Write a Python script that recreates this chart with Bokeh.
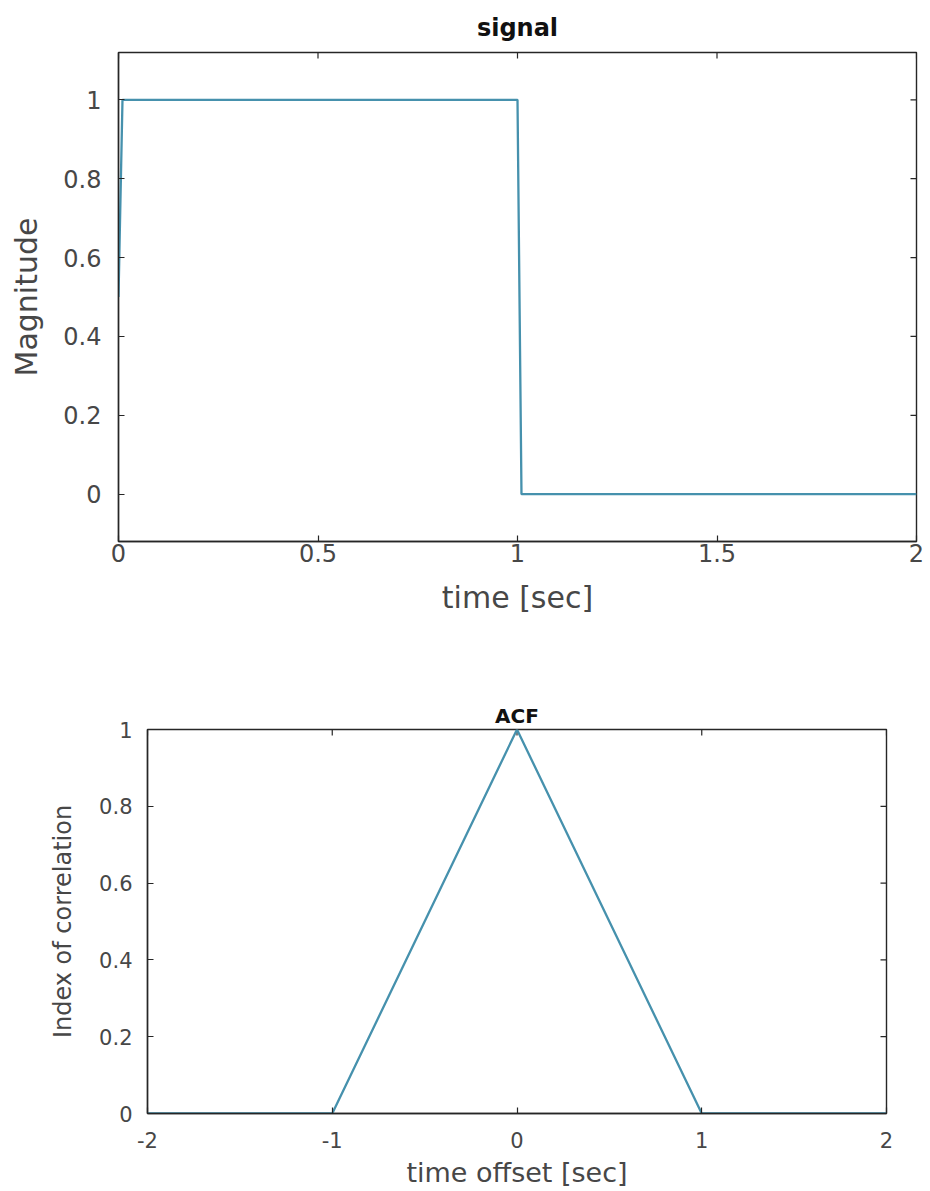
from bokeh.plotting import figure
from bokeh.models import FixedTicker, Range1d
from bokeh.embed import file_html
from bokeh.resources import INLINE

# ---- data ----
signal_t = [0.0, 0.01, 1.0, 1.01, 2.0]
signal_y = [0.5, 1.0, 1.0, 0.0, 0.0]

acf_lag = [-2.0, -1.0, 0.0, 1.0, 2.0]
acf_val = [0.0, 0.0, 1.0, 0.0, 0.0]

sig_xticks = [0, 0.5, 1, 1.5, 2]
sig_xlabels = ["0", "0.5", "1", "1.5", "2"]
sig_yticks = [0, 0.2, 0.4, 0.6, 0.8, 1]
sig_ylabels = ["0", "0.2", "0.4", "0.6", "0.8", "1"]

acf_xticks = [-2, -1, 0, 1, 2]
acf_xlabels = ["-2", "-1", "0", "1", "2"]
acf_yticks = [0, 0.2, 0.4, 0.6, 0.8, 1]
acf_ylabels = ["0", "0.2", "0.4", "0.6", "0.8", "1"]

FONT = "DejaVu Sans"
AXC = "#262626"
LBLC = "#474747"
LINEC = "#4691ad"
TICK_PX = 6


def style_axis(ax, ticks, labels, fsize, standoff, label, lsize, lstandoff):
    ax.ticker = FixedTicker(ticks=ticks)
    ax.major_label_overrides = {t: l for t, l in zip(ticks, labels)}
    ax.major_tick_in = TICK_PX
    ax.major_tick_out = 0
    ax.minor_tick_line_color = None
    ax.axis_line_color = AXC
    ax.axis_line_width = 1.4
    ax.major_tick_line_color = AXC
    ax.major_tick_line_width = 1.2
    ax.major_label_text_font = FONT
    ax.major_label_text_color = LBLC
    ax.major_label_text_font_size = fsize
    ax.major_label_standoff = standoff
    ax.axis_label = label
    ax.axis_label_text_font = FONT
    ax.axis_label_text_font_size = lsize
    ax.axis_label_text_font_style = "normal"
    ax.axis_label_text_color = LBLC
    ax.axis_label_standoff = lstandoff


def make_fig(title, xr, yr, fw, fh, bl, br, bt, bb, tsize, tstand):
    p = figure(frame_width=fw, frame_height=fh, x_range=Range1d(*xr), y_range=Range1d(*yr),
               output_backend="svg", toolbar_location=None,
               min_border_left=bl, min_border_right=br, min_border_top=bt, min_border_bottom=bb,
               title=title)
    p.title.align = "center"
    p.title.text_font = FONT
    p.title.text_font_size = tsize
    p.title.text_font_style = "bold"
    p.title.text_color = "#111111"
    p.title.standoff = tstand
    p.xgrid.visible = False
    p.ygrid.visible = False
    p.outline_line_color = AXC
    p.outline_line_width = 1.4
    p.background_fill_color = "white"
    p.border_fill_color = "white"
    return p


def box_ticks(p, xr, yr, fw, fh, xticks, yticks):
    # inward tick marks on the top and right edges of the box
    dy = TICK_PX * (yr[1] - yr[0]) / fh
    dx = TICK_PX * (xr[1] - xr[0]) / fw
    p.segment(x0=xticks, y0=[yr[1]] * len(xticks), x1=xticks, y1=[yr[1] - dy] * len(xticks),
              line_color=AXC, line_width=1.2)
    p.segment(x0=[xr[1]] * len(yticks), y0=yticks, x1=[xr[1] - dx] * len(yticks), y1=yticks,
              line_color=AXC, line_width=1.2)


# ---- top: signal ----
xr1, yr1, fw1, fh1 = (0, 2), (-0.12, 1.12), 798, 489
p1 = make_fig("signal", xr1, yr1, fw1, fh1, 118, 10, 52, 99, "24px", 22)
box_ticks(p1, xr1, yr1, fw1, fh1, sig_xticks, sig_yticks)
p1.line(signal_t, signal_y, line_color=LINEC, line_width=2.3)
style_axis(p1.xaxis[0], sig_xticks, sig_xlabels, "24px", 2, "time [sec]", "30px", 15)
style_axis(p1.yaxis[0], sig_yticks, sig_ylabels, "24px", 17, "Magnitude", "30px", 16)

# ---- bottom: ACF ----
xr2, yr2, fw2, fh2 = (-2, 2), (0, 1), 739, 384
p2 = make_fig("ACF", xr2, yr2, fw2, fh2, 147, 40, 89, 77, "20px", 4)
box_ticks(p2, xr2, yr2, fw2, fh2, acf_xticks, acf_yticks)
p2.line(acf_lag, acf_val, line_color=LINEC, line_width=2.3)
style_axis(p2.xaxis[0], acf_xticks, acf_xlabels, "21px", 18, "time offset [sec]", "27px", 6)
style_axis(p2.yaxis[0], acf_yticks, acf_ylabels, "21px", 15, "Index of correlation", "24px", 19)

# two independent roots, stacked, so their frames are not forced into alignment
open("out.html", "w").write(file_html([p1, p2], INLINE))
